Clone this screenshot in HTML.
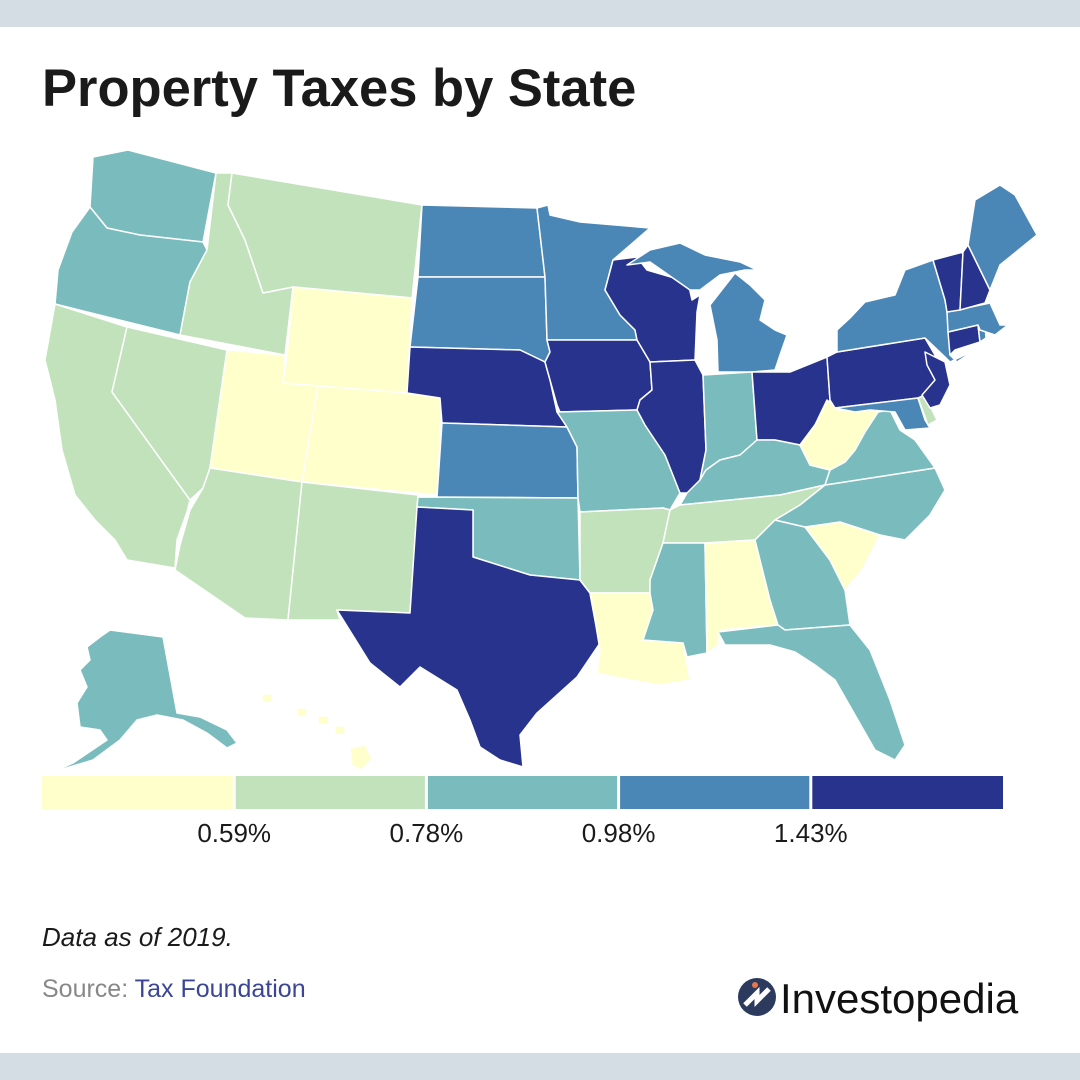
<!DOCTYPE html>
<html><head><meta charset="utf-8"><style>
body{margin:0;width:1080px;height:1080px;background:#fff;overflow:hidden;font-family:"Liberation Sans",sans-serif;position:relative}
.band{position:absolute;left:0;width:1080px;background:#d3dde3}
</style></head><body>
<div class="band" style="top:0;height:27px"></div>
<div class="band" style="top:1053px;height:27px"></div>
<svg id="chart" width="1080" height="1080" style="position:absolute;left:0;top:0">
<text x="42" y="106" font-family="Liberation Sans, sans-serif" font-weight="bold" font-size="52.5" fill="#1a1a1a">Property Taxes by State</text>
<g id="states"></g>
<g id="legend"></g>
<text x="42" y="946" font-style="italic" font-size="26" fill="#1a1a1a">Data as of 2019.</text>
<text x="42" y="997" font-size="25" fill="#888">Source: <tspan fill="#3a4599">Tax Foundation</tspan></text>
<g>
<circle cx="757" cy="997" r="19" fill="#2c3a5e"/>
<path d="M745 1005 L757 993 L757 1001 L769 989" stroke="#fff" stroke-width="5" fill="none"/>
<circle cx="755" cy="985" r="3" fill="#e8764a"/>
<text x="780" y="1013" font-size="42" fill="#111">Investopedia</text>
</g>
</svg>
<script>
const stateCodes=["WA","OR","CA","NV","ID","MT","WY","UT","CO","AZ","NM","ND","SD","NE","KS","OK","TX","MN","IA","MO","AR","LA","WI","IL","MI","IN","OH","KY","TN","MS","AL","GA","FL","SC","NC","VA","WV","PA","NY","MD","DE","NJ","CT","RI","MA","VT","NH","ME","AK","HI"];
const taxRates=[0.93,0.97,0.76,0.59,0.69,0.74,0.57,0.58,0.51,0.66,0.73,0.98,1.31,1.61,1.40,0.87,1.69,1.10,1.50,0.97,0.61,0.55,1.76,2.16,1.38,0.85,1.52,0.86,0.71,0.78,0.41,0.90,0.89,0.57,0.84,0.80,0.58,1.50,1.40,1.06,0.60,2.47,2.11,1.39,1.17,1.83,2.09,1.30,0.95,0.28];
const thresholds=[0.59,0.78,0.98,1.43];
const thresholdLabels=["0.59%","0.78%","0.98%","1.43%"];
const palette=["#ffffcc","#c2e2bb","#7abcbd","#4a87b6","#27338c"];
const geo={
WA:"93,157 128,150 216,173 203,242 140,235 107,228 90,207",
OR:"90,207 107,228 140,235 203,242 207,250 190,282 180,335 55,304 58,270 72,232",
CA:"55,304 127,327 112,392 190,500 187,512 177,540 175,568 127,560 115,540 95,520 75,495 62,450 55,400 45,360",
NV:"127,327 227,350 210,468 203,488 190,500 112,392",
ID:"216,173 232,173 228,205 245,240 263,293 293,287 285,355 180,335 190,282 207,250",
MT:"232,173 422,205 412,298 293,287 263,293 245,240 228,205",
WY:"293,287 412,298 407,393 318,386 283,383 287,355",
UT:"227,350 285,355 283,383 318,386 302,482 210,468",
CO:"318,386 407,393 442,398 437,495 302,482",
AZ:"210,468 302,482 288,620 245,618 175,570 180,545 190,510 203,488",
NM:"302,482 418,495 410,613 337,610 340,620 288,620",
ND:"422,205 537,208 545,277 418,277",
SD:"418,277 545,277 547,340 550,352 545,362 520,350 410,347",
NE:"410,347 520,350 545,362 550,380 557,412 567,427 442,423 440,398 407,393",
KS:"442,423 567,427 577,447 578,498 437,497",
OK:"418,497 578,498 580,580 530,575 473,557 473,510 417,507",
TX:"417,507 473,510 473,557 530,575 580,580 590,593 595,620 600,643 577,677 537,713 520,735 523,767 500,760 480,747 470,720 457,690 420,667 400,687 370,663 337,610 410,613",
MN:"537,208 548,205 550,215 580,222 650,228 613,260 605,290 620,315 635,330 637,340 547,340 545,277",
IA:"547,340 637,340 650,362 652,390 640,400 637,410 560,412 557,405 550,380 545,362 550,352",
MO:"557,412 637,410 645,425 665,455 680,493 670,510 663,508 580,512 578,498 577,447 567,427",
AR:"580,512 663,508 670,510 663,543 650,580 650,593 590,593 580,580",
LA:"590,593 650,593 655,610 643,640 683,643 690,680 660,685 620,678 597,673 600,650 595,620",
WI:"613,260 637,257 647,270 688,282 692,300 700,295 697,312 695,360 650,362 637,340 635,330 620,315 605,290",
IL:"650,362 695,360 703,375 706,450 700,480 695,495 687,493 680,493 665,455 645,425 637,410 640,400 652,390",
MI:"718,372 717,340 710,305 735,273 750,285 765,300 760,320 775,330 787,335 780,355 775,370 752,372 M627,265 650,250 680,243 705,255 740,262 757,270 745,270 720,275 700,290 690,290 650,262",
IN:"703,375 752,372 757,440 740,455 720,460 706,470 700,480 706,450",
OH:"752,372 790,372 827,357 830,400 815,425 800,445 775,440 757,440",
KY:"680,505 687,493 700,480 706,470 720,460 740,455 757,440 775,440 800,445 810,465 830,470 825,485 780,495",
TN:"663,543 670,510 680,505 780,495 825,485 800,505 775,520 755,540 705,543",
MS:"663,543 705,543 707,653 687,657 683,643 643,640 653,610 650,593 650,580",
AL:"705,543 755,540 770,600 778,625 720,630 718,645 707,653",
GA:"755,540 775,520 805,527 830,560 845,590 850,625 785,630 778,625 770,600",
FL:"718,632 778,625 785,630 850,625 870,650 890,700 905,745 895,760 875,750 855,715 835,680 815,665 795,652 770,645 725,645",
SC:"805,527 840,522 880,535 862,570 845,590 830,560",
NC:"775,520 800,505 825,485 935,468 945,490 930,515 905,540 880,535 840,522 805,527",
VA:"825,485 830,470 845,462 855,450 865,432 878,412 890,410 900,430 915,440 935,468",
WV:"800,445 815,425 827,400 838,410 855,410 870,400 878,412 865,432 855,450 845,462 830,470 810,465",
PA:"827,357 837,352 925,338 935,355 932,370 945,378 935,395 918,398 835,408 830,400",
NY:"837,352 837,330 850,318 865,302 895,295 905,270 933,260 945,300 947,312 950,355 957,362 975,350 950,362 945,357 925,338",
MD:"835,408 918,398 925,420 930,428 905,430 895,412 870,410 855,412",
DE:"918,398 925,395 937,420 928,425",
NJ:"925,352 945,362 950,385 940,405 930,408 922,395 935,380 927,365",
CT:"948,332 978,325 980,342 955,350 950,355",
RI:"978,325 985,325 986,338 980,342",
MA:"947,312 990,303 1000,325 1008,325 995,335 980,330 978,325 948,332",
VT:"933,260 963,252 960,310 947,312 945,300",
NH:"963,252 968,245 990,290 985,303 960,310",
ME:"968,245 975,200 1000,185 1015,195 1037,235 1000,265 990,290",
AK:"100,637 110,630 163,637 177,713 200,717 227,730 237,743 227,748 207,733 183,720 157,715 137,720 120,740 93,760 53,772 73,763 107,740 100,730 80,727 77,703 87,687 80,670 90,660 87,647",
HI:"262,694 272,694 272,702 262,702 M297,708 307,708 307,716 297,716 M318,716 328,716 328,724 318,724 M335,726 345,726 345,734 335,734 M350,748 365,745 372,758 362,770 352,766"
};
function colorIndex(v){let i=0;while(i<thresholds.length&&v>=thresholds[i])i++;return i;}
function toPath(s){return s.split(" M").map(p=>"M"+p.replace(/^M/,"").trim().split(" ").join(" L")+" Z").join(" ");}
const ns="http://www.w3.org/2000/svg";
const sg=document.getElementById("states");
stateCodes.forEach((c,i)=>{
  const p=document.createElementNS(ns,"path");
  p.setAttribute("d",toPath(geo[c]));
  p.setAttribute("fill",palette[colorIndex(taxRates[i])]);
  p.setAttribute("stroke","#fff");p.setAttribute("stroke-width","1.5");p.setAttribute("stroke-linejoin","round");
  
  
  sg.appendChild(p);
});
const lg=document.getElementById("legend");
const lx0=42,lx1=1003,segW=(lx1-lx0)/palette.length;
palette.forEach((col,i)=>{
  const r=document.createElementNS(ns,"rect");
  r.setAttribute("x",lx0+i*segW+(i?1.5:0));r.setAttribute("y",776);
  r.setAttribute("width",segW-(i?1.5:0)-(i<palette.length-1?1.5:0));r.setAttribute("height",33);r.setAttribute("fill",col);
  
  
  lg.appendChild(r);
});
thresholdLabels.forEach((t,i)=>{
  const tx=document.createElementNS(ns,"text");
  tx.setAttribute("x",lx0+(i+1)*segW);tx.setAttribute("y",842);
  tx.setAttribute("text-anchor","middle");tx.setAttribute("font-size","26");tx.setAttribute("fill","#1a1a1a");
  tx.textContent=t;
  
  
  lg.appendChild(tx);
});
</script>
</body></html>
